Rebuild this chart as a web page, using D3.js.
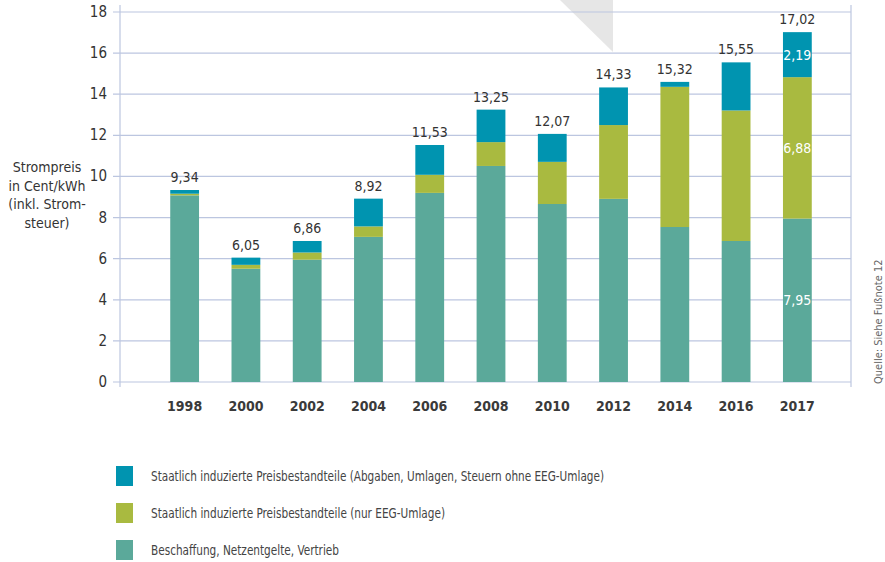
<!DOCTYPE html>
<html lang="de">
<head>
<meta charset="UTF-8">
<title>Strompreis</title>
<script src="https://d3js.org/d3.v7.min.js"></script>
<style>
  body { margin: 0; background: #fff; }
  svg text { font-family: "Liberation Sans Narrow", "DejaVu Sans Condensed", sans-serif; fill: #333; }
  .grid line { stroke: #bcc6e0; stroke-width: 1.2; }
  .legend text { fill: #444; font-size: 14px; }
</style>
</head>
<body>
<svg id="chart" width="885" height="562"></svg>
<script>
// data (Cent/kWh)
const years = ["1998", "2000", "2002", "2004", "2006", "2008", "2010", "2012", "2014", "2016", "2017"];
const beschaffung = [9.08, 5.51, 5.95, 7.06, 9.20, 10.51, 8.66, 8.91, 7.54, 6.86, 7.95];
const eegUmlage   = [0.08, 0.19, 0.35, 0.51, 0.88, 1.16, 2.05, 3.59, 6.82, 6.35, 6.88];
const abgaben     = [0.18, 0.35, 0.56, 1.35, 1.45, 1.58, 1.36, 1.83, 0.24, 2.34, 2.19];
const totals      = ["9,34", "6,05", "6,86", "8,92", "11,53", "13,25", "12,07", "14,33", "15,32", "15,55", "17,02"];
const yTicks = [0, 2, 4, 6, 8, 10, 12, 14, 16, 18];
const legendLabels = [
  "Staatlich induzierte Preisbestandteile (Abgaben, Umlagen, Steuern ohne EEG-Umlage)",
  "Staatlich induzierte Preisbestandteile (nur EEG-Umlage)",
  "Beschaffung, Netzentgelte, Vertrieb"
];
const colors = { beschaffung: "#5ba99a", eeg: "#a9ba40", abgaben: "#0094b0" };

const svg = d3.select("#chart");
const plotLeft = 120, plotRight = 851, plotTop = 12, plotBottom = 382;

const x = d3.scaleBand().domain(years).range([154, 828]).paddingInner(0.53).paddingOuter(0.265);
const y = d3.scaleLinear().domain([0, 18]).range([plotBottom, plotTop]);

// decorative triangle at the top
svg.append("path")
  .attr("d", "M560,0 L613,0 L613,52 Z")
  .attr("fill", "#e6e6e6");

// gridlines
const grid = svg.append("g").attr("class", "grid");
grid.selectAll("line.h").data(yTicks).join("line")
  .attr("x1", 113).attr("x2", plotRight)
  .attr("y1", d => y(d)).attr("y2", d => y(d));
grid.append("line").attr("x1", plotLeft).attr("x2", plotLeft).attr("y1", 5).attr("y2", 387);
grid.append("line").attr("x1", plotRight).attr("x2", plotRight).attr("y1", 5).attr("y2", 387);

// y tick labels
svg.append("g").selectAll("text").data(yTicks).join("text")
  .attr("x", 107).attr("y", d => y(d) + 5)
  .attr("text-anchor", "end")
  .attr("font-size", 15)
  .text(d => d);

// y axis title
const yTitle = ["Strompreis", "in Cent/kWh", "(inkl. Strom-", "steuer)"];
svg.append("g").selectAll("text").data(yTitle).join("text")
  .attr("x", 47).attr("y", (d, i) => 172 + i * 18.7)
  .attr("text-anchor", "middle")
  .attr("font-size", 14)
  .text(d => d);

// stacked bars
const rows = years.map((yr, i) => ({ year: yr, beschaffung: beschaffung[i], eeg: eegUmlage[i], abgaben: abgaben[i] }));
const keys = ["beschaffung", "eeg", "abgaben"];
const stacked = d3.stack().keys(keys)(rows);

svg.append("g").selectAll("g").data(stacked).join("g")
  .attr("fill", d => colors[d.key])
  .selectAll("rect").data(d => d).join("rect")
  .attr("x", d => x(d.data.year))
  .attr("width", x.bandwidth())
  .attr("y", d => y(d[1]))
  .attr("height", d => y(d[0]) - y(d[1]));

// total labels
const tops = stacked[stacked.length - 1];
svg.append("g").selectAll("text").data(tops).join("text")
  .attr("x", d => x(d.data.year) + x.bandwidth() / 2)
  .attr("y", d => y(d[1]) - 8)
  .attr("text-anchor", "middle")
  .attr("font-size", 14)
  .text((d, i) => totals[i]);

// segment labels for 2017
const last = years.length - 1;
const fmt = v => d3.format(".2f")(v).replace(".", ",");
svg.append("g").selectAll("text").data(stacked).join("text")
  .attr("x", x(years[last]) + x.bandwidth() / 2)
  .attr("y", d => (y(d[last][0]) + y(d[last][1])) / 2 + 5)
  .attr("text-anchor", "middle")
  .attr("font-size", 14)
  .style("fill", "#fff")
  .text(d => fmt(d[last][1] - d[last][0]));

// x labels
svg.append("g").selectAll("text").data(years).join("text")
  .attr("x", d => x(d) + x.bandwidth() / 2)
  .attr("y", 411)
  .attr("text-anchor", "middle")
  .attr("font-size", 14)
  .attr("font-weight", "bold")
  .style("fill", "#3a3a3a")
  .text(d => d);

// legend (the original uses a narrow font, so squeeze the lines to its widths)
const legendColors = [colors.abgaben, colors.eeg, colors.beschaffung];
const legendWidths = [453, 294, 188];
const legend = svg.append("g").attr("class", "legend")
  .selectAll("g").data(legendLabels).join("g")
  .attr("transform", (d, i) => `translate(116, ${466 + i * 37})`);
legend.append("rect").attr("width", 17).attr("height", 20).attr("fill", (d, i) => legendColors[i]);
legend.append("text").attr("x", 35).attr("y", 15)
  .attr("textLength", (d, i) => legendWidths[i])
  .attr("lengthAdjust", "spacingAndGlyphs")
  .text(d => d);

// source
svg.append("text")
  .attr("transform", "translate(882, 384) rotate(-90)")
  .attr("font-size", 11)
  .style("fill", "#666")
  .text("Quelle: Siehe Fußnote 12");
</script>
</body>
</html>
